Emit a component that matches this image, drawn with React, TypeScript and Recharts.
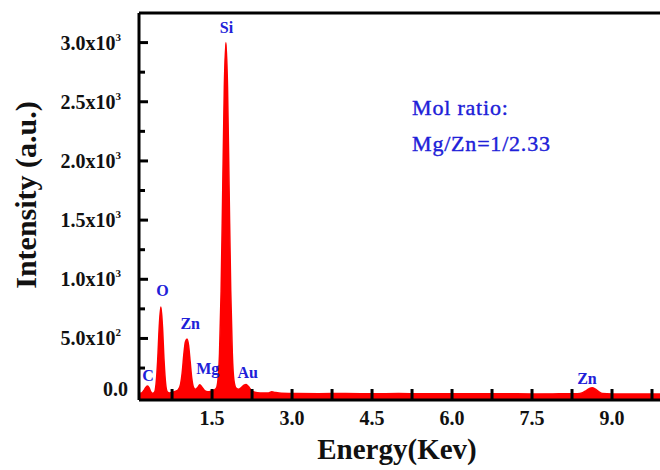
import React from 'react';
import { AreaChart, Area, XAxis, YAxis, ReferenceDot, ReferenceLine } from 'recharts';

const FONT = '"Liberation Serif", "Times New Roman", serif';
const BLUE = '#2020d8';

// EDS spectrum (energy in keV, intensity in a.u.)
const energy = [
  0.13, 0.18, 0.22, 0.26, 0.29, 0.32, 0.35, 0.38, 0.42, 0.45, 0.48, 0.51, 0.54, 0.57, 0.6, 0.63, 0.66,
  0.7, 0.76, 0.82, 0.87, 0.91, 0.94, 0.97, 1.0, 1.03, 1.06, 1.09, 1.12, 1.15, 1.19, 1.23, 1.27, 1.31,
  1.36, 1.42, 1.48, 1.54, 1.58, 1.61, 1.64, 1.67, 1.7, 1.73, 1.76, 1.79, 1.82, 1.85, 1.88, 1.91, 1.95,
  2.0, 2.05, 2.1, 2.14, 2.18, 2.23, 2.3, 2.4, 2.55, 2.62, 2.68, 2.8, 3.0, 3.5, 4.0, 4.5, 5.0, 5.5, 6.0,
  6.5, 7.0, 7.5, 8.0, 8.35, 8.45, 8.52, 8.58, 8.63, 8.68, 8.75, 8.82, 9.0, 9.5, 9.9,
];
const counts = [
  36, 40, 60, 88, 98, 82, 50, 36, 45, 115, 310, 600, 765, 600, 310, 115, 50,
  40, 45, 55, 70, 115, 210, 360, 470, 495, 440, 300, 160, 90, 70, 85, 108, 88,
  60, 50, 55, 65, 80, 145, 370, 900, 1750, 2620, 3000, 2620, 1750, 900, 370, 145, 80,
  70, 85, 105, 110, 95, 65, 46, 40, 40, 50, 44, 36, 35, 33, 35, 33, 34, 32, 33,
  32, 33, 31, 32, 33, 42, 60, 78, 83, 74, 50, 34, 31, 30, 30,
];

const xTicks = [0.75, 1.5, 2.25, 3.0, 3.75, 4.5, 5.25, 6.0, 6.75, 7.5, 8.25, 9.0, 9.75];
const xTickLabels = ['', '1.5', '', '3.0', '', '4.5', '', '6.0', '', '7.5', '', '9.0', ''];

const yTicks = [0, 250, 500, 750, 1000, 1250, 1500, 1750, 2000, 2250, 2500, 2750, 3000];
const yMantissa = ['0.0', '', '5.0', '', '1.0', '', '1.5', '', '2.0', '', '2.5', '', '3.0'];
const yExponent = ['', '', '2', '', '3', '', '3', '', '3', '', '3', '', '3'];

const peakNames = ['C', 'O', 'Zn', 'Mg', 'Si', 'Au', 'Zn'];
const peakLabelX = [0.3, 0.57, 1.09, 1.42, 1.77, 2.17, 8.53];
const peakLabelY = [190, 910, 630, 250, 3125, 215, 165];

const noteLines = ['Mol ratio:', 'Mg/Zn=1/2.33'];
const noteX = 5.25;
const noteY = [2455, 2150];

const data = energy.map((e, i) => ({ energy: e, counts: counts[i] }));

const findIdx = (arr: number[], v: number) => arr.findIndex((a) => Math.abs(a - v) < 1e-6);

// x tick: inward (upward) mark plus label below the axis
const XTick = (props: any) => {
  const { x, y, payload } = props;
  const i = findIdx(xTicks, Number(payload.value));
  const label = i >= 0 ? xTickLabels[i] : '';
  return (
    <g>
      <line x1={x} x2={x} y1={y} y2={y - 11} stroke="#000" strokeWidth={3} />
      {label ? (
        <text x={x} y={y + 25} textAnchor="middle" fontSize={20} fontWeight="bold" fontFamily={FONT} fill="#111">
          {label}
        </text>
      ) : null}
    </g>
  );
};

// y tick: inward (rightward) mark plus label with superscript exponent
const YTick = (props: any) => {
  const { x, y, payload } = props;
  const i = findIdx(yTicks, Number(payload.value));
  if (i < 0) return <g />;
  const mant = yMantissa[i];
  const exp = yExponent[i];
  const major = mant !== '';
  return (
    <g>
      {Number(payload.value) !== 0 ? (
        <line x1={x} x2={x + (major ? 9 : 6)} y1={y} y2={y} stroke="#000" strokeWidth={3} />
      ) : null}
      {major && exp ? (
        <text x={x - 18} y={y} dy="0.35em" textAnchor="end" fontSize={20} fontWeight="bold" fontFamily={FONT} fill="#111">
          {mant}x10
          <tspan fontSize={11} dy={-9}>{exp}</tspan>
        </text>
      ) : null}
      {major && !exp ? (
        <text x={x - 11} y={y - 9} dy="0.35em" textAnchor="end" fontSize={20} fontWeight="bold" fontFamily={FONT} fill="#111">
          {mant}
        </text>
      ) : null}
    </g>
  );
};

export default function App() {
  return (
    <div style={{ position: 'absolute', left: 0, top: 0, width: 660, height: 470, background: '#fff' }}>
      <AreaChart width={660} height={470} data={data} margin={{ top: 13, right: 0, bottom: 0, left: 0 }}>
        <XAxis
          dataKey="energy"
          type="number"
          domain={[0.13, 9.9]}
          ticks={xTicks}
          interval={0}
          tickSize={0}
          tickMargin={0}
          tickLine={false}
          tick={<XTick />}
          height={70}
          axisLine={{ stroke: '#000', strokeWidth: 3 }}
          allowDataOverflow
        />
        <YAxis
          type="number"
          domain={[-20, 3250]}
          ticks={yTicks}
          interval={0}
          tickSize={0}
          tickMargin={0}
          tickLine={false}
          tick={<YTick />}
          width={139}
          axisLine={{ stroke: '#000', strokeWidth: 3 }}
          allowDataOverflow
        />
        <Area
          type="monotone"
          dataKey="counts"
          stroke="#ff0000"
          strokeWidth={1.5}
          fill="#ff0000"
          fillOpacity={1}
          baseValue="dataMin"
          dot={false}
          activeDot={false}
          isAnimationActive={false}
        />
        <ReferenceLine y={3250} stroke="#000" strokeWidth={3} />
        {peakNames.map((n, i) => (
          <ReferenceDot
            key={'p' + i}
            x={peakLabelX[i]}
            y={peakLabelY[i]}
            r={0}
            stroke="none"
            fill="none"
            label={{ value: n, position: 'center', fill: BLUE, fontSize: 16, fontWeight: 'bold', fontFamily: FONT }}
          />
        ))}
        {noteLines.map((t, i) => (
          <ReferenceDot
            key={'n' + i}
            x={noteX}
            y={noteY[i]}
            r={0}
            stroke="none"
            fill="none"
            label={{
              value: t,
              position: 'right',
              offset: 0,
              fill: BLUE,
              stroke: BLUE,
              strokeWidth: 0.4,
              fontSize: 22,
              letterSpacing: 0.8,
              fontFamily: FONT,
            }}
          />
        ))}
      </AreaChart>
      <svg width={660} height={470} style={{ position: 'absolute', left: 0, top: 0, pointerEvents: 'none' }}>
        <text x={397} y={459} textAnchor="middle" fontSize={29} fontWeight="bold" fontFamily={FONT} fill="#111">
          Energy(Kev)
        </text>
        <text
          x={36}
          y={195}
          transform="rotate(-90 36 195)"
          textAnchor="middle"
          fontSize={30}
          fontWeight="bold"
          fontFamily={FONT}
          fill="#111"
        >
          Intensity (a.u.)
        </text>
      </svg>
    </div>
  );
}
